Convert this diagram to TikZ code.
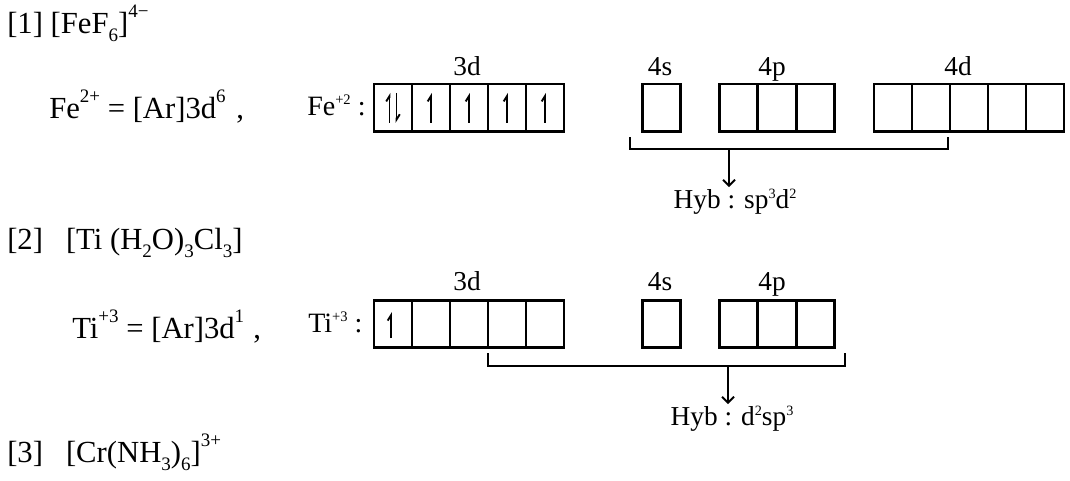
\documentclass[tikz,border=0pt]{standalone}
\usepackage{fontspec}
\setmainfont{Liberation Serif}
\usetikzlibrary{arrows.meta}

\makeatletter
\newcommand\upsc[1]{{\edef\scsz{\strip@pt\dimexpr0.62\dimexpr\f@size pt\relax\relax}\raisebox{0.5em}{\fontsize{\scsz}{\scsz}\selectfont #1}}}
\newcommand\dnsc[1]{{\edef\scsz{\strip@pt\dimexpr0.62\dimexpr\f@size pt\relax\relax}\raisebox{-0.28em}{\fontsize{\scsz}{\scsz}\selectfont #1}}}
\newcommand\tinysc[1]{{\edef\scsz{\strip@pt\dimexpr0.52\dimexpr\f@size pt\relax\relax}\raisebox{0.36em}{\fontsize{\scsz}{\scsz}\selectfont #1}}}
\makeatother

\tikzset{
  orb/.style={draw, line width=2pt, minimum width=28.5pt, minimum height=35.5pt, inner sep=0pt, outer sep=0pt},
  big/.style={font=\fontsize{23}{27}\selectfont, inner sep=0pt, anchor=base west},
  ion/.style={font=\fontsize{21}{25}\selectfont, inner sep=0pt, anchor=base west},
  lbl/.style={font=\fontsize{20.5}{25}\selectfont, inner sep=1pt, anchor=base},
  spin/.style={line width=1.4pt, -{Straight Barb[harpoon, length=4pt, width=5pt]}},
  brk/.style={line width=1.5pt},
  hyarr/.style={line width=1.5pt, -{Straight Barb[length=4.5pt, width=9pt]}}
}

\begin{document}
\begin{tikzpicture}[x=0.75pt, y=0.75pt]
\useasboundingbox (0,0) rectangle (1070,-480);

% [1] iron complex
\node[big] (t1) at (7,-33) {[1] [FeF\dnsc{6}]\upsc{4\textminus}};
\node[big] (fecfg) at (49,-118) {Fe\upsc{2+} = [Ar]3d\upsc{6}\hspace{0.35em},};
\node[ion] (fe) at (307,-115) {Fe\tinysc{+2} :};

\node[orb] (fe3d1) at (393,-107.5) {};
\node[orb] (fe3d2) at (431,-107.5) {};
\node[orb] (fe3d3) at (469,-107.5) {};
\node[orb] (fe3d4) at (507,-107.5) {};
\node[orb] (fe3d5) at (545,-107.5) {};
\node[orb] (fe4s) at (661.5,-107.5) {};
\node[orb] (fe4p1) at (738.3,-107.5) {};
\node[orb] (fe4p2) at (777,-107.5) {};
\node[orb] (fe4p3) at (815.7,-107.5) {};
\node[orb] (fe4d1) at (893,-107.5) {};
\node[orb] (fe4d2) at (931,-107.5) {};
\node[orb] (fe4d3) at (969,-107.5) {};
\node[orb] (fe4d4) at (1007,-107.5) {};
\node[orb] (fe4d5) at (1045,-107.5) {};

\node[lbl] (fel3d) at (467,-75) {3d};
\node[lbl] (fel4s) at (660,-75) {4s};
\node[lbl] (fel4p) at (772,-75) {4p};
\node[lbl] (fel4d) at (958,-75) {4d};

% electrons
\draw[spin] ([xshift=-2.6pt,yshift=-11.5pt]fe3d1.center) -- ++(0,30);
\draw[spin] ([xshift=2.6pt,yshift=11pt]fe3d1.center) -- ++(0,-30);
\draw[spin] ([yshift=-11.5pt]fe3d2.center) -- ++(0,30);
\draw[spin] ([yshift=-11.5pt]fe3d3.center) -- ++(0,30);
\draw[spin] ([yshift=-11.5pt]fe3d4.center) -- ++(0,30);
\draw[spin] ([yshift=-11.5pt]fe3d5.center) -- ++(0,30);

\node[lbl] (hyb1) at (735,-208) {Hyb : sp\tinysc{3}d\tinysc{2}};
\coordinate (b1l) at (630,-137);
\coordinate (b1r) at (948,-137);
\coordinate (b1m) at (729,-149);
\draw[brk] (b1l) -- ++(0,-12) -| (b1r);
\draw[hyarr] (b1m) -- (b1m |- hyb1.north);

% [2] titanium complex
\node[big] (t2) at (7,-249) {[2]\hspace{0.75em}[Ti (H\dnsc{2}O)\dnsc{3}Cl\dnsc{3}]};
\node[big] (ticfg) at (72,-338) {Ti\upsc{+3} = [Ar]3d\upsc{1}\hspace{0.3em},};
\node[ion] (ti) at (308,-332) {Ti\tinysc{+3} :};

\node[orb] (ti3d1) at (393,-324) {};
\node[orb] (ti3d2) at (431,-324) {};
\node[orb] (ti3d3) at (469,-324) {};
\node[orb] (ti3d4) at (507,-324) {};
\node[orb] (ti3d5) at (545,-324) {};
\node[orb] (ti4s) at (661.5,-324) {};
\node[orb] (ti4p1) at (738.3,-324) {};
\node[orb] (ti4p2) at (777,-324) {};
\node[orb] (ti4p3) at (815.7,-324) {};

\node[lbl] (til3d) at (467,-290) {3d};
\node[lbl] (til4s) at (660,-290) {4s};
\node[lbl] (til4p) at (772,-290) {4p};

\draw[spin] ([xshift=-1.5pt,yshift=-10.5pt]ti3d1.center) -- ++(0,26);

\node[lbl] (hyb2) at (732,-425) {Hyb : d\tinysc{2}sp\tinysc{3}};
\coordinate (b2l) at (488,-353);
\coordinate (b2r) at (845,-353);
\coordinate (b2m) at (728,-366);
\draw[brk] (b2l) -- ++(0,-13) -| (b2r);
\draw[hyarr] (b2m) -- (b2m |- hyb2.north);

% [3] chromium complex
\node[big] (t3) at (7,-462) {[3]\hspace{0.75em}[Cr(NH\dnsc{3})\dnsc{6}]\upsc{3+}};
\end{tikzpicture}
\end{document}
